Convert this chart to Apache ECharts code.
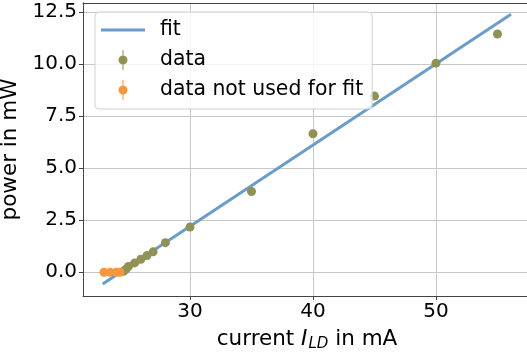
<!DOCTYPE html>
<html><head><meta charset="utf-8">
<script src="https://cdn.jsdelivr.net/npm/echarts@6/dist/echarts.min.js"></script>
<style>html,body{margin:0;padding:0;background:#fff}#c{width:527px;height:352px}</style>
</head><body><div id="c"></div>
<script>
// data
const dataX = [24.6, 24.8, 25.0, 25.5, 26.0, 26.5, 27.0, 28.0, 30.0, 35.0, 40.0, 45.0, 50.0, 55.0];
const dataY = [0.05, 0.15, 0.28, 0.45, 0.62, 0.80, 0.98, 1.42, 2.17, 3.88, 6.65, 8.46, 10.04, 11.44];
const unusedX = [23.0, 23.5, 24.0, 24.3];
const unusedY = [0.0, 0.0, 0.0, 0.0];
const fitX = [22.9, 56.1];
const fitY = [-0.56, 12.39];
const xTicks = [30, 40, 50];
const yTicks = [0, 2.5, 5, 7.5, 10, 12.5];

const FONT = 'DejaVu Sans';
const pairs = (xs, ys) => xs.map((x, i) => [x, ys[i]]);
const errIcon = 'path://M4,0H5V20H4Z M9,10A4.5,4.5 0 1 1 0,10A4.5,4.5 0 1 1 9,10Z';
const lineIcon = 'path://M0,0H44V3H0Z';

const chart = echarts.init(document.getElementById('c'), null, {renderer: 'canvas'});
chart.setOption({
  animation: false,
  textStyle: {fontFamily: FONT},
  grid: {left: 83, right: 0, top: 3, bottom: 56, containLabel: false, outerBoundsMode: 'none'},
  xAxis: [{
    type: 'value', min: 21.3, max: 57.4,
    name: 'current {i|I}{s|LD} in mA', nameLocation: 'middle', nameGap: 25,
    nameTextStyle: {fontFamily: FONT, fontSize: 21.5, color: '#000', lineHeight: 25, padding: [0, 0, 0, 4],
      rich: {i: {fontFamily: FONT, fontSize: 21.5, fontStyle: 'italic', color: '#000', lineHeight: 25, padding: [0, 1, 0, 0]},
             s: {fontFamily: FONT, fontSize: 15, fontStyle: 'italic', color: '#000', lineHeight: 15, verticalAlign: 'bottom'}}},
    axisLine: {show: true, onZero: false, lineStyle: {color: '#444', width: 1}},
    axisTick: {show: true, length: 4, lineStyle: {color: '#444'}, customValues: xTicks},
    axisLabel: {fontFamily: FONT, fontSize: 20, color: '#000', margin: 6, customValues: xTicks},
    splitLine: {show: true, lineStyle: {color: '#c8c8c8', width: 1}}
  }, {
    type: 'value', position: 'top', min: 21.3, max: 57.4,
    axisLine: {show: true, onZero: false, lineStyle: {color: '#444', width: 1}},
    axisTick: {show: false}, axisLabel: {show: false}, splitLine: {show: false}
  }],
  yAxis: {
    type: 'value', min: -1.14, max: 12.93,
    name: 'power in mW', nameLocation: 'middle', nameGap: 51, nameRotate: 90,
    nameTextStyle: {fontFamily: FONT, fontSize: 21.5, color: '#000'},
    axisLine: {show: true, onZero: false, lineStyle: {color: '#444', width: 1}},
    axisTick: {show: true, length: 4, lineStyle: {color: '#444'}, customValues: yTicks},
    axisLabel: {fontFamily: FONT, fontSize: 20, color: '#000', margin: 6, customValues: yTicks,
      formatter: v => Number(v).toFixed(1)},
    splitLine: {show: true, lineStyle: {color: '#c8c8c8', width: 1}}
  },
  legend: {
    orient: 'vertical', left: 95, top: 12,
    padding: [8, 9, 9, 6], itemGap: 10, itemWidth: 44, itemHeight: 20,
    backgroundColor: 'rgba(255,255,255,0.8)', borderColor: '#d0d0d0', borderWidth: 1, borderRadius: 4,
    textStyle: {fontFamily: FONT, fontSize: 20.4, color: '#000', padding: [0, 0, 0, 10]},
    data: [
      {name: 'fit', icon: lineIcon},
      {name: 'data', icon: errIcon},
      {name: 'data not used for fit', icon: errIcon}
    ]
  },
  series: [
    {name: 'fit', type: 'line', data: pairs(fitX, fitY), symbol: 'none', z: 1,
     lineStyle: {color: '#6a9cca', width: 3}, itemStyle: {color: '#6a9cca'}},
    {name: 'data', type: 'scatter', data: pairs(dataX, dataY), symbolSize: 9, z: 3,
     itemStyle: {color: '#8f9254', opacity: 1}},
    {name: 'data not used for fit', type: 'scatter', data: pairs(unusedX, unusedY), symbolSize: 9, z: 3,
     itemStyle: {color: '#f5973f', opacity: 1}}
  ]
});
</script></body></html>
